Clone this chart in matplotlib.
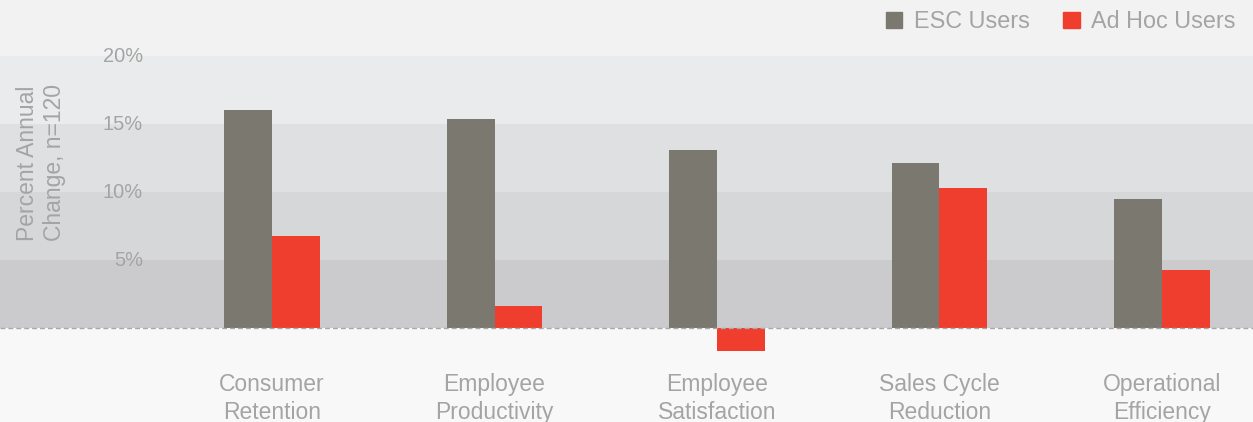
import numpy as np
import matplotlib.pyplot as plt
from matplotlib.patches import Patch

categories = ["Consumer\nRetention", "Employee\nProductivity", "Employee\nSatisfaction",
              "Sales Cycle\nReduction", "Operational\nEfficiency"]
esc_users = [16.0, 15.4, 13.1, 12.1, 9.5]
adhoc_users = [6.8, 1.6, -1.7, 10.3, 4.3]
ytick_vals = [5, 10, 15, 20]
ytick_labels = ["5%", "10%", "15%", "20%"]

band_colors = ["#cbcbcd", "#d6d7d9", "#dfe0e2", "#eaebec"]
gray = "#7b7870"
red = "#ef3e2e"
txt = "#a4a4a4"
font = "Liberation Sans"

fig = plt.figure(figsize=(12.53, 4.22), dpi=100)
fig.patch.set_facecolor("#f8f8f8")
ax = fig.add_axes([0, 0, 1, 1])
ax.set_facecolor("#f8f8f8")

# background bands
ax.axhspan(0, 30, color="#f2f2f2", zorder=0, lw=0)
lo = 0
for v, c in zip(ytick_vals, band_colors):
    ax.axhspan(lo, v, color=c, zorder=0, lw=0)
    lo = v

x = np.arange(len(categories))
w = 0.2157
ax.bar(x - w/2, esc_users, w, color=gray, zorder=2, lw=0)
ax.bar(x + w/2, adhoc_users, w, color=red, zorder=2, lw=0)

ax.axhline(0, color="#a8a8a8", lw=1.0, ls=(0, (3.5, 2.2)), zorder=3)

ax.set_xlim(-1.2225, 4.409)
ax.set_ylim(-6.91, 24.12)
ax.axis("off")

for v, lab in zip(ytick_vals, ytick_labels):
    ax.text(0.1141, v, lab, transform=ax.get_yaxis_transform(), ha="right", va="center",
            fontsize=14.4, color=txt, family=font)

for i, lab in enumerate(categories):
    ax.annotate(lab, xy=(x[i], 0), xytext=(0, -32.5), textcoords="offset points",
                ha="center", va="top", fontsize=16.5, color=txt, family=font,
                linespacing=1.25)

ax.text(0.0327, 0.614, "Percent Annual\nChange, n=120", transform=ax.transAxes,
        rotation=90, ha="center", va="center", fontsize=16.5, color=txt, family=font,
        linespacing=1.25)

handles = [Patch(color=gray, label="ESC Users"), Patch(color=red, label="Ad Hoc Users")]
leg = fig.legend(handles=handles, loc="center right", bbox_to_anchor=(0.9864, 0.948),
                 ncol=2, frameon=False, borderpad=0, borderaxespad=0,
                 handlelength=0.7, handleheight=0.7, handletextpad=0.5,
                 columnspacing=1.45, prop={"family": font, "size": 16.8})
for t in leg.get_texts():
    t.set_color(txt)

plt.savefig("out.png", dpi=100)
